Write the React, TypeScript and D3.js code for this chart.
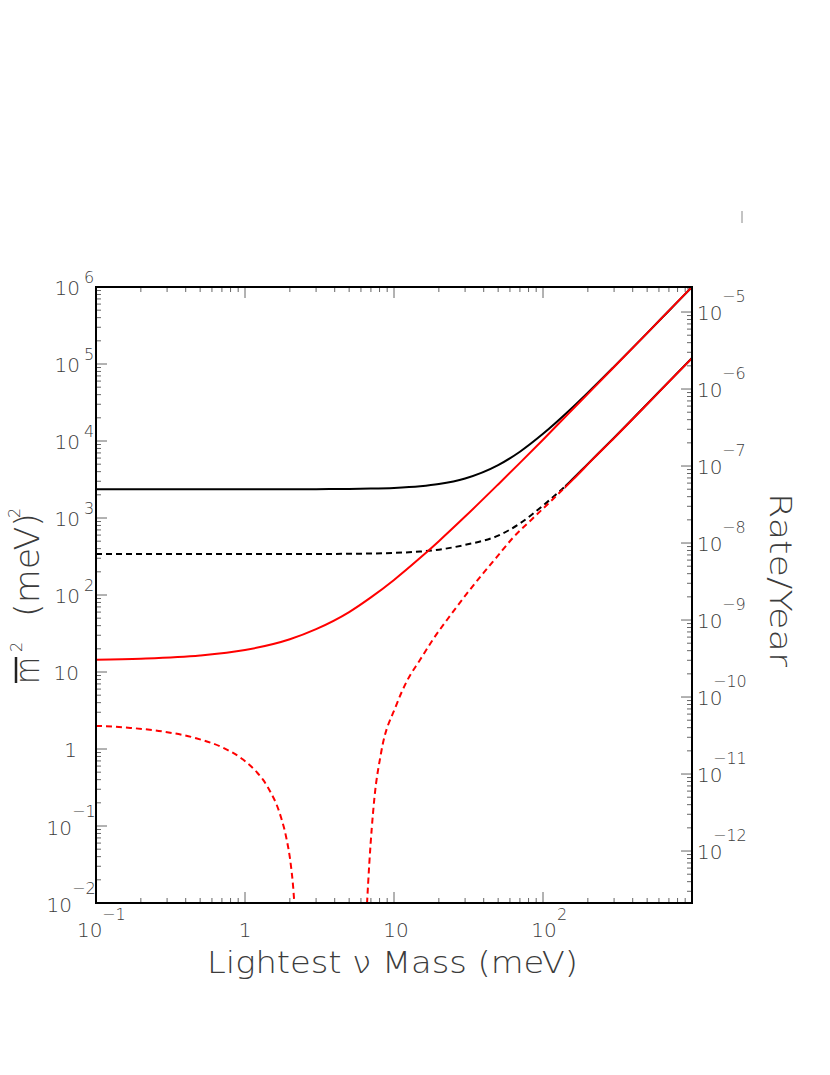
import React, { useEffect, useRef } from 'react';
import * as d3 from 'd3';

// lightest neutrino mass grid (meV) shared by the smooth curves
const massGrid = [0.1, 0.2, 0.5, 1, 2, 3, 5, 7, 10, 15, 20, 30, 50, 70, 100, 150, 200, 300, 500, 700, 1000];
// black solid / dashed (inverted), red solid (normal) -- m^2 in meV^2
const ihSolid = [2360, 2360, 2360, 2360, 2364, 2369, 2385, 2409, 2460, 2585, 2760, 3260, 4860, 7260, 12400, 24900, 42400, 92400, 252000, 492000, 1000000];
const ihDashed = [340, 340, 340, 340, 341, 341, 343, 346, 352, 367, 388, 448, 590, 850, 1450, 2900, 5050, 11000, 30200, 59000, 119700];
const nhSolid = [14.4, 14.9, 16.4, 19.3, 26.6, 36, 60, 93, 157, 304, 500, 1043, 2730, 5200, 10400, 23200, 40900, 91300, 252000, 493000, 1004000];
// red dashed, two branches around the cancellation
const nhDashedLowMass = [0.1, 0.17, 0.28, 0.47, 0.71, 0.97, 1.2, 1.32, 1.5, 1.62, 1.75, 1.88, 2.04, 2.1, 2.14, 2.16];
const nhDashedLow = [2.0, 1.88, 1.69, 1.38, 1.04, 0.73, 0.5, 0.4, 0.265, 0.195, 0.127, 0.075, 0.029, 0.017, 0.0105, 0.0083];
const nhDashedHighMass = [6.59, 6.83, 7.37, 8.18, 10.3, 12.2, 15, 18.4, 24, 30.8, 40, 48.9, 63.2, 85, 116, 160, 218, 300, 500, 700, 1000];
const nhDashedHigh = [0.0098, 0.033, 0.22, 0.88, 3.6, 7.6, 14.5, 27, 55, 104, 195, 310, 560, 980, 1740, 3200, 5900, 10900, 30000, 58700, 119300];

// axis labels (exponents)
const xExps = [-1, 0, 1, 2];
const yExps = [-2, -1, 0, 1, 2, 3, 4, 5, 6];
const rateExps = [-12, -11, -10, -9, -8, -7, -6, -5];

const frame = { left: 96, right: 692, top: 287, bottom: 903 };
const textColor = '#3c3c3c';
const font = "'DejaVu Sans', 'Liberation Sans', sans-serif";
// dashed curves are dense enough above this mass that they print solid
const denseFrom = 140;

const App = () => {
  const svgRef = useRef<SVGSVGElement>(null);

  useEffect(() => {
    const svg = d3.select(svgRef.current);
    svg.selectAll('*').remove();

    const x = d3.scaleLog().domain([0.1, 1000]).range([frame.left, frame.right]);
    const y = d3.scaleLog().domain([1e-2, 1e6]).range([frame.bottom, frame.top]);
    const yRate = d3.scaleLog()
      .domain([Math.pow(10, -12.675), Math.pow(10, -4.675)])
      .range([frame.bottom, frame.top]);

    const defs = svg.append('defs');
    const addClip = (id: string, x0: number, x1: number) =>
      defs.append('clipPath').attr('id', id)
        .append('rect')
        .attr('x', x0).attr('y', frame.top)
        .attr('width', x1 - x0)
        .attr('height', frame.bottom - frame.top);
    addClip('plotClip', frame.left, frame.right);
    addClip('sparseClip', frame.left, x(denseFrom));
    addClip('denseClip', x(denseFrom), frame.right);

    // log ticks helper
    const logTicks = (lo: number, hi: number, dom: number[]) => {
      const out: { v: number; major: boolean }[] = [];
      for (let e = lo; e <= hi; e++) {
        for (let k = 1; k < 10; k++) {
          const v = k * Math.pow(10, e);
          if (v >= dom[0] * 0.999 && v <= dom[1] * 1.001) out.push({ v, major: k === 1 });
        }
      }
      return out;
    };

    const tickG = svg.append('g').attr('stroke', '#666').attr('stroke-width', 1);

    // bottom + top
    logTicks(-1, 3, x.domain()).forEach(t => {
      const px = x(t.v);
      const len = t.major ? 11 : 5;
      tickG.append('line').attr('x1', px).attr('x2', px)
        .attr('y1', frame.bottom).attr('y2', frame.bottom - len);
      tickG.append('line').attr('x1', px).attr('x2', px)
        .attr('y1', frame.top).attr('y2', frame.top + len);
    });

    // left
    logTicks(-2, 6, y.domain()).forEach(t => {
      const py = y(t.v);
      const len = t.major ? 11 : 5;
      tickG.append('line').attr('x1', frame.left).attr('x2', frame.left + len)
        .attr('y1', py).attr('y2', py);
    });

    // right (rate)
    logTicks(-13, -5, yRate.domain()).forEach(t => {
      const py = yRate(t.v);
      const len = t.major ? 11 : 5;
      tickG.append('line').attr('x1', frame.right).attr('x2', frame.right - len)
        .attr('y1', py).attr('y2', py);
    });

    // curves
    const line = d3.line<[number, number]>()
      .x(d => x(d[0]))
      .y(d => y(d[1]))
      .curve(d3.curveMonotoneX);

    const plot = svg.append('g').attr('fill', 'none');

    const series = [
      { m: massGrid, v: ihSolid, color: '#000', dash: null },
      { m: massGrid, v: ihDashed, color: '#000', dash: '6,4' },
      { m: massGrid, v: nhSolid, color: '#ff0000', dash: null },
      { m: nhDashedLowMass, v: nhDashedLow, color: '#ff0000', dash: '6,4' },
      { m: nhDashedHighMass, v: nhDashedHigh, color: '#ff0000', dash: '6,4' },
    ];

    series.forEach(s => {
      const pts = s.m.map((m, i) => [m, s.v[i]] as [number, number]);
      const d = line(pts);
      if (!s.dash) {
        plot.append('path').attr('clip-path', 'url(#plotClip)')
          .attr('d', d).attr('stroke', s.color).attr('stroke-width', 2);
      } else {
        plot.append('path').attr('clip-path', 'url(#sparseClip)')
          .attr('d', d).attr('stroke', s.color).attr('stroke-width', 2)
          .attr('stroke-dasharray', s.dash);
        plot.append('path').attr('clip-path', 'url(#denseClip)')
          .attr('d', d).attr('stroke', s.color).attr('stroke-width', 2);
      }
    });

    // frame
    svg.append('rect')
      .attr('x', frame.left).attr('y', frame.top)
      .attr('width', frame.right - frame.left)
      .attr('height', frame.bottom - frame.top)
      .attr('fill', 'none').attr('stroke', '#000').attr('stroke-width', 2);

    const labels = svg.append('g').attr('fill', textColor)
      .style('font-family', font).style('font-weight', '200');

    const big = '20px';
    const sup = '16px';

    // left labels
    yExps.forEach(e => {
      const py = y(Math.pow(10, e));
      if (e === 0) {
        labels.append('text').attr('x', 77).attr('y', py + 8).attr('text-anchor', 'end')
          .style('font-size', big).text('1');
      } else if (e === 1) {
        labels.append('text').attr('x', 79).attr('y', py + 8).attr('text-anchor', 'end')
          .style('font-size', big).text('10');
      } else if (e > 1) {
        labels.append('text').attr('x', 80).attr('y', py + 8).attr('text-anchor', 'end')
          .style('font-size', big).text('10');
        labels.append('text').attr('x', 84).attr('y', py - 4)
          .style('font-size', sup).text(String(e));
      } else {
        labels.append('text').attr('x', 72).attr('y', py + 9).attr('text-anchor', 'end')
          .style('font-size', big).text('10');
        labels.append('text').attr('x', 72).attr('y', py - 9)
          .style('font-size', sup).text('\u2212' + Math.abs(e));
      }
    });

    // bottom labels
    xExps.forEach(e => {
      const px = x(Math.pow(10, e));
      const by = 937;
      if (e === 0) {
        labels.append('text').attr('x', px).attr('y', by).attr('text-anchor', 'middle')
          .style('font-size', big).text('1');
      } else if (e === 1) {
        labels.append('text').attr('x', px + 2).attr('y', by).attr('text-anchor', 'middle')
          .style('font-size', big).text('10');
      } else if (e > 1) {
        labels.append('text').attr('x', px + 1).attr('y', by).attr('text-anchor', 'middle')
          .style('font-size', big).text('10');
        labels.append('text').attr('x', px + 14).attr('y', by - 17)
          .style('font-size', sup).text(String(e));
      } else {
        labels.append('text').attr('x', px - 19).attr('y', by)
          .style('font-size', big).text('10');
        labels.append('text').attr('x', px + 6).attr('y', by - 17)
          .style('font-size', sup).text('\u2212' + Math.abs(e));
      }
    });

    // right labels
    rateExps.forEach(e => {
      const py = yRate(Math.pow(10, e));
      labels.append('text').attr('x', 697).attr('y', py + 8)
        .style('font-size', big).text('10');
      labels.append('text').attr('x', e <= -10 ? 713 : 722).attr('y', py - 10)
        .style('font-size', sup)
        .text('\u2212' + Math.abs(e));
    });

    // x title
    labels.append('text')
      .attr('x', 207).attr('y', 973)
      .attr('textLength', 371).attr('lengthAdjust', 'spacingAndGlyphs')
      .style('font-size', '31px')
      .text('Lightest \u03bd Mass (meV)');

    // y title (rotated)
    const yt = labels.append('g').attr('transform', 'translate(39,684) rotate(-90)');
    yt.append('text').attr('x', 0).attr('y', 0)
      .attr('textLength', 27).attr('lengthAdjust', 'spacingAndGlyphs')
      .style('font-size', '33px').text('m');
    yt.append('line').attr('x1', 1).attr('x2', 27).attr('y1', -23).attr('y2', -23)
      .attr('stroke', '#222').attr('stroke-width', 2.5);
    yt.append('text').attr('x', 32).attr('y', -17).style('font-size', sup).text('2');
    yt.append('text').attr('x', 67).attr('y', 0)
      .attr('textLength', 104).attr('lengthAdjust', 'spacingAndGlyphs')
      .style('font-size', '33px').text('(meV)');
    yt.append('text').attr('x', 166).attr('y', -19).style('font-size', sup).text('2');

    // right title (rotated)
    labels.append('text')
      .attr('transform', 'translate(770,493) rotate(90)')
      .attr('textLength', 174).attr('lengthAdjust', 'spacingAndGlyphs')
      .style('font-size', '31px')
      .text('Rate/Year');

    // stray mark top right
    svg.append('line').attr('x1', 742).attr('x2', 742).attr('y1', 211).attr('y2', 223)
      .attr('stroke', '#888').attr('stroke-width', 1);
  }, []);

  return (
    <svg
      ref={svgRef}
      width={830}
      height={1075}
      style={{ position: 'absolute', left: 0, top: 0, background: '#fff' }}
    />
  );
};

export default App;
